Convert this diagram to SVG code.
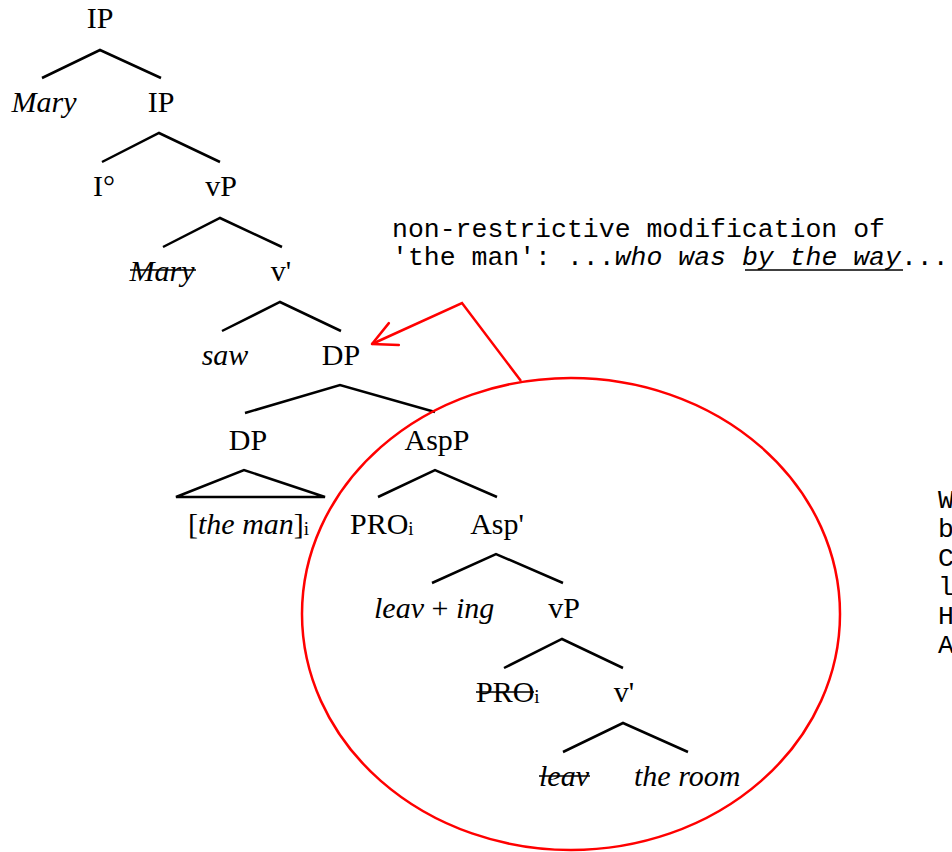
<svg xmlns="http://www.w3.org/2000/svg" width="952" height="852" viewBox="0 0 952 852">
<defs>
<style>
.t{font-family:"Liberation Serif","Times New Roman",serif;font-size:30px;fill:#000}
.c{text-anchor:middle}
.i{font-style:italic}
.sub{font-size:19px}
.e{fill:none;stroke:#000;stroke-width:2.5}
.s{stroke:#000;stroke-width:1.6}
.m{font-family:"Liberation Mono","Courier New",monospace;font-size:26.5px;fill:#000}
.r{fill:none;stroke:#f00;stroke-width:2.5}
</style>
<marker id="ah" viewBox="-2 -2 28 28" refX="24" refY="12" markerWidth="28" markerHeight="28" markerUnits="userSpaceOnUse" orient="auto">
<path d="M0,0 L24,12 L0,24" fill="none" stroke="#f00" stroke-width="2.5" stroke-linecap="round" stroke-linejoin="round"/>
</marker>
</defs>
<rect width="952" height="852" fill="#fff"/>

<g id="edges">
<polyline class="e" points="42,78 100,50 161,78"/>
<polyline class="e" points="102,162 159,133 220,162"/>
<polyline class="e" points="163,247 220,218 282,247"/>
<polyline class="e" points="222,331 280,302 341,331"/>
<polyline class="e" points="245,413 340,385 435,412"/>
<polygon class="e" points="176,497 244,470 325,497"/>
<polyline class="e" points="378,497 435,470 497,497"/>
<polyline class="e" points="432,583 496,554 563,583"/>
<polyline class="e" points="504,668 562,639 623,668"/>
<polyline class="e" points="563,752 623,723 688,752"/>
</g>

<g id="n-ip1"><text class="t c" x="100" y="28">IP</text></g>
<g id="n-mary"><text class="t c i" x="44" y="112">Mary</text></g>
<g id="n-ip2"><text class="t c" x="161" y="112">IP</text></g>
<g id="n-i"><text class="t c" x="104" y="196">I°</text></g>
<g id="n-vp1"><text class="t c" x="221" y="196">vP</text></g>
<g id="n-mary2"><text class="t c i" x="162" y="281">Mary</text><line class="s" x1="130" y1="270" x2="196" y2="270"/></g>
<g id="n-vbar1"><text class="t c" x="281" y="281">v'</text></g>
<g id="n-saw"><text class="t c i" x="225" y="365">saw</text></g>
<g id="n-dp1"><text class="t c" x="341" y="365">DP</text></g>
<g id="n-dp2"><text class="t c" x="248" y="450">DP</text></g>
<g id="n-aspp"><text class="t c" x="437" y="450">AspP</text></g>
<g id="n-theman"><text class="t" x="188" y="534">[<tspan class="i">the man</tspan>]<tspan class="sub" dy="1">i</tspan></text></g>
<g id="n-pro"><text class="t" x="350" y="534">PRO<tspan class="sub" dy="1">i</tspan></text></g>
<g id="n-aspbar"><text class="t c" x="497" y="534">Asp'</text></g>
<g id="n-leaving"><text class="t" x="374" y="618"><tspan class="i">leav</tspan> + <tspan class="i">ing</tspan></text></g>
<g id="n-vp2"><text class="t c" x="564" y="618">vP</text></g>
<g id="n-pro2"><text class="t" x="476" y="702">PRO<tspan class="sub" dy="1">i</tspan></text><line class="s" x1="476" y1="692" x2="534" y2="692"/></g>
<g id="n-vbar2"><text class="t c" x="624" y="702">v'</text></g>
<g id="n-leav"><text class="t i" x="539" y="786">leav</text><line class="s" x1="539" y1="776" x2="590" y2="776"/></g>
<g id="n-theroom"><text class="t i" x="634" y="786">the room</text></g>

<g id="annotation">
<ellipse class="r" cx="571" cy="614" rx="269" ry="236"/>
<polyline class="r" points="521,381 462,303 372,344" marker-end="url(#ah)"/>
<text class="m" x="392" y="237">non-restrictive modification of</text>
<text class="m" x="392" y="265">'the man': ...<tspan font-style="italic">who was </tspan><tspan font-style="italic">by the way</tspan>...</text>
<line x1="745" y1="270" x2="903" y2="270" stroke="#000" stroke-width="1.5"/>
</g>

<g id="right-text" class="m">
<text x="938" y="508">W</text>
<text x="938" y="537">b</text>
<text x="938" y="566">C</text>
<text x="938" y="595">l</text>
<text x="938" y="624">H</text>
<text x="938" y="653">A</text>
</g>
</svg>
